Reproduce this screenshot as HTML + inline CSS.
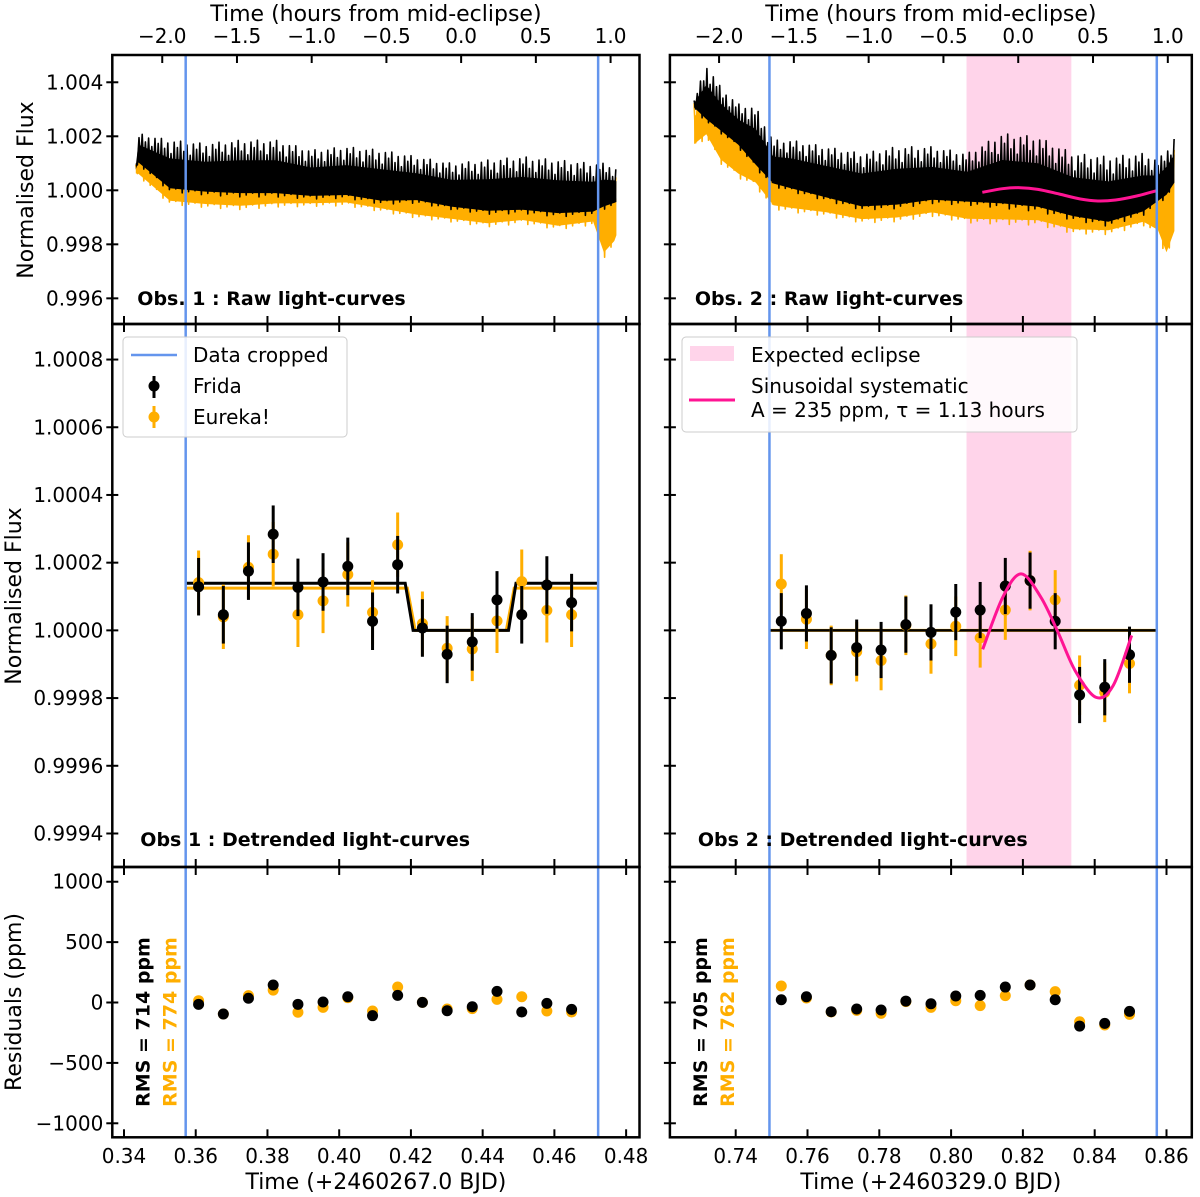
<!DOCTYPE html>
<html><head><meta charset="utf-8">
<style>
html,body{margin:0;padding:0;background:#fff;}
svg{display:block;font-family:"DejaVu Sans","Liberation Sans",sans-serif;}
</style></head>
<body>
<svg id="fig" width="1200" height="1197" viewBox="0 0 1200 1197" xmlns="http://www.w3.org/2000/svg"></svg>
<script>
// ===== Observation 1 data =====
const obs1BinTimes = [0.3608,0.3677,0.3747,0.3816,0.3885,0.3955,0.4024,0.4093,0.4163,0.4232,0.4301,0.4371,0.4440,0.4509,0.4579,0.4648];
const obs1FridaPpm = [129,46,175,284,127,143,189,27,194,7,-71,-34,90,46,134,82];
const obs1EurekaPpm = [141,40,186,225,46,87,165,53,253,20,-53,-55,28,144,59,46];
const obs1FridaErr = [85,85,85,85,85,85,85,85,85,85,85,85,85,85,85,85];
const obs1EurekaErr = [95,95,95,95,95,95,95,95,95,95,95,95,95,95,95,95];
const obs1FridaRes = [-15,-95,35,145,-15,4,48,-109,59,1,-68,-35,92,-79,-7,-57];
const obs1EurekaRes = [15,-95,57,103,-81,-40,40,-70,128,1,-54,-51,26,48,-70,-79];
const obs1ModelT = [0.3572,0.4184,0.4206,0.4472,0.4493,0.4722];
const obs1FridaModel = [139,139,0,0,139,139];
const obs1EurekaModelT = [0.3572,0.4190,0.4212,0.4466,0.4488,0.4722];
const obs1EurekaModel = [125,125,0,0,125,125];
const obs1Crop = [0.3572,0.4722];
const obs1RawT = [0.3433,0.3440,0.3528,0.3627,0.3725,0.3823,0.3922,0.4020,0.4118,0.4216,0.4315,0.4413,0.4511,0.4610,0.4708,0.4738,0.4767,0.4773];
const obs1RawHi = [1000,2103,1857,1734,1857,1857,1488,1611,1488,1242,996,1119,1242,1119,996,1000,873,800];
const obs1RawLo = [700,627,-603,-726,-849,-849,-849,-849,-1095,-972,-1218,-1464,-1464,-1587,-1464,-1200,-972,-900];
const obs1RawOrLo = [500,135,-1095,-1218,-1341,-1218,-1095,-1095,-1341,-1587,-1710,-1956,-1833,-2079,-1833,-3432,-2817,-2500];
// ===== Observation 2 data =====
const obs2BinTimes = [0.7527,0.7597,0.7666,0.7737,0.7805,0.7874,0.7944,0.8013,0.8081,0.8151,0.8220,0.8290,0.8358,0.8428,0.8497];
const obs2FridaPpm = [27,50,-74,-51,-58,17,-6,54,60,131,147,27,-191,-168,-72];
const obs2EurekaPpm = [137,33,-74,-63,-89,15,-40,12,-22,60,147,90,-162,-183,-98];
const obs2FridaErr = [83,83,83,83,83,83,83,83,83,83,83,83,83,83,83];
const obs2EurekaErr = [88,88,88,88,88,88,88,88,88,88,88,88,88,88,88];
const obs2FridaRes = [23,48,-76,-54,-62,12,-10,54,59,128,145,23,-195,-173,-73];
const obs2EurekaRes = [137,37,-79,-65,-90,7,-40,15,-26,57,145,90,-159,-186,-98];
const obs2Crop = [0.7494,0.8573];
const obs2Eclipse = [0.8043,0.8335];
const obs2SinT = [0.8088,0.8144,0.8195,0.8250,0.8298,0.8346,0.8404,0.8452,0.8503];
const obs2SinPpm = [-56,98,167,98,-6,-120,-198,-162,-15];
const obs2RawSinT = [0.8087,0.8143,0.8192,0.8242,0.8301,0.8360,0.8409,0.8458,0.8517,0.8573];
const obs2RawSinPpm = [-75,60,97,36,-137,-321,-395,-358,-210,-14];
const obs2RawT = [0.7284,0.7318,0.7358,0.7407,0.7456,0.7505,0.7554,0.7652,0.7751,0.7849,0.7947,0.8045,0.8143,0.8242,0.8340,0.8438,0.8536,0.8576,0.8600,0.8622];
const obs2RawHi = [3333,4686,3825,3198,3075,1857,1857,1611,1365,1611,1611,1365,2103,1980,1365,1242,1365,1119,1500,1980];
const obs2RawLo = [2964,1857,1611,1119,135,-357,-603,-972,-1341,-1341,-1095,-1095,-1464,-1587,-1833,-2079,-1587,-972,-800,-357];
const obs2RawOrLo = [1119,1242,258,-234,-603,-1341,-1464,-1587,-1833,-1833,-1587,-1833,-2079,-2079,-2325,-2325,-1956,-2325,-3600,-2694];
// ===== Axis tick labels =====
const hourTicks = [-2.0,-1.5,-1.0,-0.5,0.0,0.5,1.0];
const obs1DayTicks = [0.34,0.36,0.38,0.40,0.42,0.44,0.46,0.48];
const obs2DayTicks = [0.74,0.76,0.78,0.80,0.82,0.84,0.86];
const rawFluxTicks = [1.004,1.002,1.000,0.998,0.996];
const detFluxTicks = [1.0008,1.0006,1.0004,1.0002,1.0000,0.9998,0.9996,0.9994];
const resTicks = [1000,500,0,-500,-1000];
const midEclipse = [0.4340,0.8187];

const NS='http://www.w3.org/2000/svg';
const svg=document.getElementById('fig');
function mk(tag,attrs,parent){const e=document.createElementNS(NS,tag);for(const k in attrs)e.setAttribute(k,attrs[k]);(parent||svg).appendChild(e);return e;}
function fmtMinus(s){return s.replace('-','\u2212');}

const BLUE='#6495ED', ORANGE='#FFAE00', PINK='#FFD4EA', MAG='#FF1493';
const cols=[{x0:112.3,x1:639.5,tmin:0.33674,tmax:0.48373},{x0:669.9,x1:1191.8,tmin:0.72167,tmax:0.86705}];
const rows=[{y0:55,y1:324,min:-4950,max:5010},{y0:324,y1:867,min:-699,max:905},{y0:867,y1:1137.3,min:-1116,max:1122}];
function sx(c,t){const C=cols[c];return C.x0+(t-C.tmin)/(C.tmax-C.tmin)*(C.x1-C.x0);}
function sy(r,v){const R=rows[r];return R.y1-(v-R.min)/(R.max-R.min)*(R.y1-R.y0);}

function line(x1,y1,x2,y2,stroke,w,name,parent){const l=mk('line',{x1,y1,x2,y2,stroke,'stroke-width':w},parent);


return l;}
function text(x,y,str,opts,name){const t=mk('text',Object.assign({x,y,'font-size':20,fill:'#000'},opts||{}));t.textContent=str;


return t;}
function polyPath(c,r,ts,vs){return ts.map((t,i)=>(i?'L':'M')+sx(c,t).toFixed(1)+','+sy(r,vs[i]).toFixed(1)).join(' ');}
function smoothPath(c,r,ts,vs){const P=ts.map((t,i)=>[sx(c,t),sy(r,vs[i])]);let d='M'+P[0][0]+','+P[0][1];
for(let i=0;i<P.length-1;i++){const p0=P[i-1]||P[i],p1=P[i],p2=P[i+1],p3=P[i+2]||P[i+1];
d+=' C'+(p1[0]+(p2[0]-p0[0])/6)+','+(p1[1]+(p2[1]-p0[1])/6)+' '+(p2[0]-(p3[0]-p1[0])/6)+','+(p2[1]-(p3[1]-p1[1])/6)+' '+p2[0]+','+p2[1];}
return d;}
function interp(ts,vs,t){for(let i=0;i<ts.length-1;i++){if(t<=ts[i+1]){const f=(t-ts[i])/(ts[i+1]-ts[i]);return vs[i]+f*(vs[i+1]-vs[i]);}}return vs[vs.length-1];}
// rendering texture for dense noisy light curve between envelopes (visual only)
const spikePattern=[0.95,0.45,0.8,0.35,1.0,0.55,0.7,0.4,0.9,0.5,0.6,0.3];
function noisePath(c,ts,hi,lo){const x0=sx(c,ts[0]),x1=sx(c,ts[ts.length-1]);let d='';let k=0;
for(let x=x0;x<=x1;x+=1.6,k++){const t=ts[0]+(x-x0)/(x1-x0)*(ts[ts.length-1]-ts[0]);
 const h=interp(ts,hi,t),l=interp(ts,lo,t),m=(h+l)/2,w=(h-l)/2;const a=spikePattern[k%spikePattern.length];
 const v=m+(k%2?-1:1)*w*a;d+=(k?'L':'M')+x.toFixed(1)+','+sy(0,v).toFixed(1)+' ';}
return d;}
function corePath(c,ts,hi,lo,f){const up=hi.map((h,i)=>(h+lo[i])/2+(h-lo[i])/2*f),dn=hi.map((h,i)=>(h+lo[i])/2-(h-lo[i])/2*f);
return polyPath(c,0,ts,up)+' '+polyPath(c,0,ts.slice().reverse(),dn.slice().reverse()).replace('M','L')+' Z';}

const defs=mk('defs',{});
for(let c=0;c<2;c++)for(let r=0;r<3;r++){const cp=mk('clipPath',{id:'cp'+c+r},defs);mk('rect',{x:cols[c].x0,y:rows[r].y0,width:cols[c].x1-cols[c].x0,height:rows[r].y1-rows[r].y0},cp);}

function panelGroup(c,r,name){const g=mk('g',{'clip-path':'url(#cp'+c+r+')'});


return g;}

const obs=[{crop:obs1Crop,raw:[obs1RawT,obs1RawHi,obs1RawLo,obs1RawOrLo],bt:obs1BinTimes,fr:obs1FridaPpm,eu:obs1EurekaPpm,fe:obs1FridaErr,ee:obs1EurekaErr,frr:obs1FridaRes,eur:obs1EurekaRes},
{crop:obs2Crop,raw:[obs2RawT,obs2RawHi,obs2RawLo,obs2RawOrLo],bt:obs2BinTimes,fr:obs2FridaPpm,eu:obs2EurekaPpm,fe:obs2FridaErr,ee:obs2EurekaErr,frr:obs2FridaRes,eur:obs2EurekaRes}];

for(let c=0;c<2;c++){
  const O=obs[c];
  if(c===1){for(let r=0;r<2;r++){const g=panelGroup(c,r,'eclipse-region-'+r);
    const rc=mk('rect',{x:sx(c,obs2Eclipse[0]),y:rows[r].y0,width:sx(c,obs2Eclipse[1])-sx(c,obs2Eclipse[0]),height:rows[r].y1-rows[r].y0,fill:PINK},g);
    
    }}
  const gR=panelGroup(c,0,'raw-lightcurve-panel-'+(c+1));
  const [rt,hi,lo,olo]=O.raw;
  const orHi=hi.map((h,i)=>h-(h-lo[i])*0.15);
  const oc=mk('path',{d:corePath(c,rt,orHi,olo,0.45),fill:ORANGE},gR);
  
  
  const on=mk('path',{d:noisePath(c,rt,orHi,olo),fill:'none',stroke:ORANGE,'stroke-width':1.6,'stroke-linejoin':'round'},gR);
  
  
  const bc=mk('path',{d:corePath(c,rt,hi,lo,0.45),fill:'#000'},gR);
  
  
  const bn=mk('path',{d:noisePath(c,rt,hi,lo),fill:'none',stroke:'#000','stroke-width':1.6,'stroke-linejoin':'round'},gR);
  
  
  if(c===1){const sp=mk('path',{d:smoothPath(c,0,obs2RawSinT,obs2RawSinPpm),fill:'none',stroke:MAG,'stroke-width':3},gR);
    
    }

  const gM=panelGroup(c,1,'detrended-panel-'+(c+1));
  if(c===0){
    const em=mk('path',{d:polyPath(0,1,obs1EurekaModelT,obs1EurekaModel),fill:'none',stroke:ORANGE,'stroke-width':3},gM);
    
    
    const fm=mk('path',{d:polyPath(0,1,obs1ModelT,obs1FridaModel),fill:'none',stroke:'#000','stroke-width':3},gM);
    
    
  } else {
    line(sx(1,obs2Crop[0]),sy(1,0),sx(1,obs2Crop[1]),sy(1,0),ORANGE,3,'eureka-flat-model',gM);
    line(sx(1,obs2Crop[0]),sy(1,0),sx(1,obs2Crop[1]),sy(1,0),'#000',2.5,'frida-flat-model',gM);
  }
  for(let i=0;i<O.bt.length;i++){
    const x=sx(c,O.bt[i]);
    line(x,sy(1,O.eu[i]-O.ee[i]),x,sy(1,O.eu[i]+O.ee[i]),ORANGE,3,'eureka-errorbar',gM);
    const d=mk('circle',{cx:x,cy:sy(1,O.eu[i]),r:5.5,fill:ORANGE},gM);
    
    
  }
  for(let i=0;i<O.bt.length;i++){
    const x=sx(c,O.bt[i]);
    line(x,sy(1,O.fr[i]-O.fe[i]),x,sy(1,O.fr[i]+O.fe[i]),'#000',3,'frida-errorbar',gM);
    const d=mk('circle',{cx:x,cy:sy(1,O.fr[i]),r:5.5,fill:'#000'},gM);
    
    
  }
  if(c===1){const sp=mk('path',{d:smoothPath(1,1,obs2SinT,obs2SinPpm),fill:'none',stroke:MAG,'stroke-width':3},gM);
    
    }

  const gB=panelGroup(c,2,'residual-panel-'+(c+1));
  for(let i=0;i<O.bt.length;i++){
    const d=mk('circle',{cx:sx(c,O.bt[i]),cy:sy(2,O.eur[i]),r:5.5,fill:ORANGE},gB);
    
    
  }
  for(let i=0;i<O.bt.length;i++){
    const d=mk('circle',{cx:sx(c,O.bt[i]),cy:sy(2,O.frr[i]),r:5.5,fill:'#000'},gB);
    
    
  }
  for(const t of O.crop){line(sx(c,t),rows[0].y0,sx(c,t),rows[2].y1,BLUE,2.5,'data-cropped-line');}
}

const TL=6;
for(let c=0;c<2;c++){
  const C=cols[c];const dayT=c?obs2DayTicks:obs1DayTicks;
  for(let r=0;r<3;r++){
    const R=rows[r];
    const fr=mk('rect',{x:C.x0,y:R.y0,width:C.x1-C.x0,height:R.y1-R.y0,fill:'none',stroke:'#000','stroke-width':2.5});
    
    
    for(const t of dayT){const x=sx(c,t);
      line(x,R.y1,x,R.y1-TL-2,'#000',2,'x-tick');
      if(r>0)line(x,R.y0,x,R.y0+TL+2,'#000',2,'x-tick');
    }
    const yt=r===0?rawFluxTicks.map(v=>(v-1)*1e6):r===1?detFluxTicks.map(v=>Math.round((v-1)*1e6)):resTicks;
    const labs=r===0?rawFluxTicks.map(v=>v.toFixed(3)):r===1?detFluxTicks.map(v=>v.toFixed(4)):resTicks.map(v=>fmtMinus(String(v)));
    yt.forEach((v,i)=>{const y=sy(r,v);line(C.x0-TL,y,C.x0+TL,y,'#000',2,'y-tick');
      if(c===0)text(C.x0-9,y+7,labs[i],{'text-anchor':'end'},'y-tick-label');});
  }
  hourTicks.forEach(h=>{const x=sx(c,midEclipse[c]+h/24);line(x,rows[0].y0,x,rows[0].y0+TL+2,'#000',2,'hour-tick');
    text(x,43,fmtMinus(h.toFixed(1)),{'text-anchor':'middle'},'hour-tick-label');});
  text((C.x0+C.x1)/2,21,'Time (hours from mid-eclipse)',{'text-anchor':'middle','font-size':22},'top-x-axis-title');
  dayT.forEach(t=>{text(sx(c,t),1163,t.toFixed(2),{'text-anchor':'middle'},'x-tick-label');});
  text((C.x0+C.x1)/2,1189,c?'Time (+2460329.0 BJD)':'Time (+2460267.0 BJD)',{'text-anchor':'middle','font-size':22},'x-axis-title');
  text(C.x0+25,305,'Obs. '+(c+1)+' : Raw light-curves',{'font-weight':'bold','font-size':19},'raw-panel-label');
  text(C.x0+28,846,'Obs '+(c+1)+' : Detrended light-curves',{'font-weight':'bold','font-size':19},'detrended-panel-label');
  const rms=c?['705','762']:['714','774'];
  text(0,0,'RMS = '+rms[0]+' ppm',{'font-weight':'bold','font-size':19,'text-anchor':'middle',transform:'translate('+(C.x0+37)+',1022) rotate(-90)'},'frida-rms-label');
  text(0,0,'RMS = '+rms[1]+' ppm',{'font-weight':'bold','font-size':19,'text-anchor':'middle',fill:ORANGE,transform:'translate('+(C.x0+64)+',1022) rotate(-90)'},'eureka-rms-label');
}
text(0,0,'Normalised Flux',{'font-size':22,'text-anchor':'middle',transform:'translate(33,190) rotate(-90)'},'raw-y-axis-title');
text(0,0,'Normalised Flux',{'font-size':22,'text-anchor':'middle',transform:'translate(21,596) rotate(-90)'},'detrended-y-axis-title');
text(0,0,'Residuals (ppm)',{'font-size':22,'text-anchor':'middle',transform:'translate(21,1002) rotate(-90)'},'residual-y-axis-title');

const lg1=mk('g',{});


mk('rect',{x:123,y:337,width:224,height:100,rx:4,fill:'rgba(255,255,255,0.85)',stroke:'#ccc','stroke-width':1},lg1);
line(131,355,177,355,BLUE,2.5,'legend-crop-swatch',lg1);
text(193,362,'Data cropped',{},'legend-data-cropped');
line(154,376,154,398,'#000',3,'legend-frida-errorbar',lg1);
const lc1=mk('circle',{cx:154,cy:386,r:5.5,fill:'#000'},lg1);
text(193,393,'Frida',{},'legend-frida');
line(154,406,154,428,ORANGE,3,'legend-eureka-errorbar',lg1);
const lc2=mk('circle',{cx:154,cy:417,r:5.5,fill:ORANGE},lg1);
text(193,424,'Eureka!',{},'legend-eureka');

const lg2=mk('g',{});


mk('rect',{x:682,y:337,width:395,height:95,rx:4,fill:'rgba(255,255,255,0.85)',stroke:'#ccc','stroke-width':1},lg2);
const pr=mk('rect',{x:690,y:346,width:44,height:15,fill:PINK},lg2);
text(751,362,'Expected eclipse',{},'legend-expected-eclipse');
line(689,400,735,400,MAG,3,'legend-sinusoid-swatch',lg2);
text(751,393,'Sinusoidal systematic',{},'legend-sinusoid');
text(751,417,'A = 235 ppm, \u03C4 = 1.13 hours',{},'legend-sinusoid-params');
</script>
</body></html>
